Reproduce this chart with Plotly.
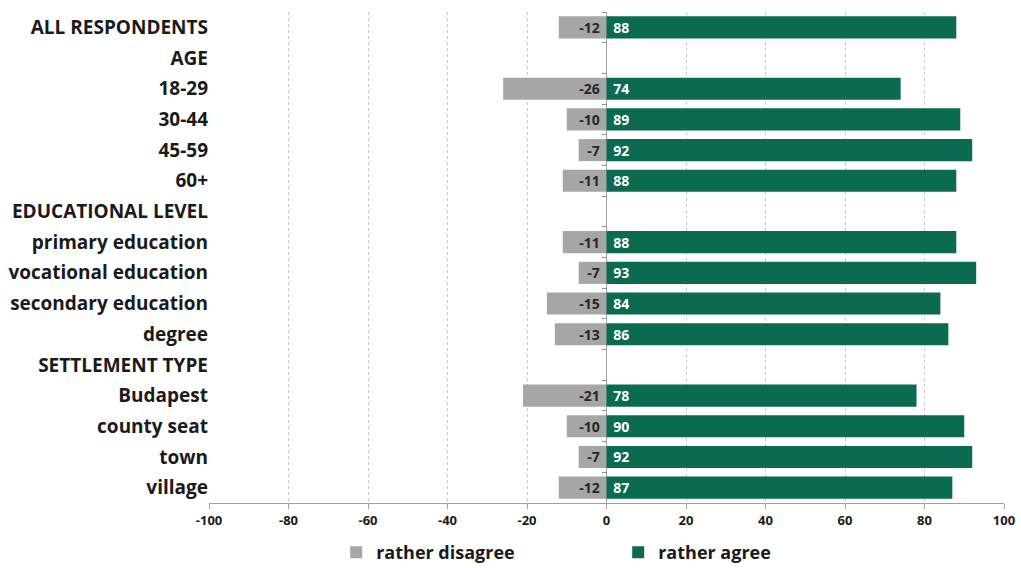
import plotly.graph_objects as go

categories = ["ALL RESPONDENTS", "AGE", "18-29", "30-44", "45-59", "60+",
              "EDUCATIONAL LEVEL", "primary education", "vocational education",
              "secondary education", "degree", "SETTLEMENT TYPE", "Budapest",
              "county seat", "town", "village"]
disagree = [-12, None, -26, -10, -7, -11, None, -11, -7, -15, -13, None, -21, -10, -7, -12]
agree = [88, None, 74, 89, 92, 88, None, 88, 93, 84, 86, None, 78, 90, 92, 87]
x_ticks = list(range(-100, 101, 20))

GRAY = "#a6a6a6"
GREEN = "#0b6b50"
FONT = "Open Sans"
n = len(categories)

fig = go.Figure()
fig.add_trace(go.Bar(
    y=categories, x=disagree, orientation="h", name="rather disagree",
    marker=dict(color=GRAY, line=dict(width=0)),
    text=[f"{v} " if v is not None else "" for v in disagree],
    textposition="inside", insidetextanchor="start", textangle=0,
    textfont=dict(family=FONT, size=14, color="#262626", weight="bold"),
    constraintext="none",
))
fig.add_trace(go.Bar(
    y=categories, x=agree, orientation="h", name="rather agree",
    marker=dict(color=GREEN, line=dict(width=0)),
    text=[f" {v}" if v is not None else "" for v in agree],
    textposition="inside", insidetextanchor="start", textangle=0,
    textfont=dict(family=FONT, size=14, color="white", weight="bold"),
    constraintext="none",
))
# invisible trace on secondary axis giving the tick marks on the zero line
fig.add_trace(go.Scatter(y=categories, x=[0] * n, yaxis="y2",
                         mode="markers", marker=dict(opacity=0), showlegend=False,
                         hoverinfo="skip"))

fig.update_layout(
    width=1021, height=568,
    margin=dict(l=209, r=17, t=12, b=65, autoexpand=False),
    paper_bgcolor="white", plot_bgcolor="white",
    barmode="relative", bargap=0.28,
    font=dict(family=FONT, color="#1a1a1a"),
    xaxis=dict(range=[-100, 100], tickvals=x_ticks, ticktext=[str(t) for t in x_ticks],
               showgrid=True, gridcolor="#c8c8c8", griddash="dot", gridwidth=1,
               zeroline=True, zerolinecolor="#a0a0a0", zerolinewidth=1,
               showline=True, linecolor="#a0a0a0", linewidth=1,
               ticks="outside", ticklen=5, tickcolor="#a0a0a0",
               tickfont=dict(family=FONT, size=13, color="#1a1a1a", weight="bold"),
               fixedrange=True),
    yaxis=dict(type="category", categoryarray=categories, range=[n - 0.5, -0.5],
               showgrid=False, zeroline=False, showline=False, ticks="",
               ticklabelstandoff=0,
               tickfont=dict(family=FONT, size=19, color="#1a1a1a", weight="bold")),
    yaxis2=dict(type="category", categoryarray=categories, overlaying="y",
                anchor="free", position=0.5, side="left", range=[n - 0.5, -0.5],
                showticklabels=False, showgrid=False, zeroline=False,
                showline=False, ticks="outside", ticklen=5, tickwidth=1,
                tickcolor="#909090", tickson="boundaries"),
    legend=dict(orientation="h", x=0.16, xanchor="left",
                y=0.027, yref="container", yanchor="middle",
                font=dict(family=FONT, size=18, color="#1a1a1a", weight="bold"),
                traceorder="normal", itemwidth=30, entrywidth=237),
    showlegend=True,
)
fig.write_html("out.html", config={"displayModeBar": False},
               post_script="document.body.style.margin='0';document.body.style.overflow='hidden';")
